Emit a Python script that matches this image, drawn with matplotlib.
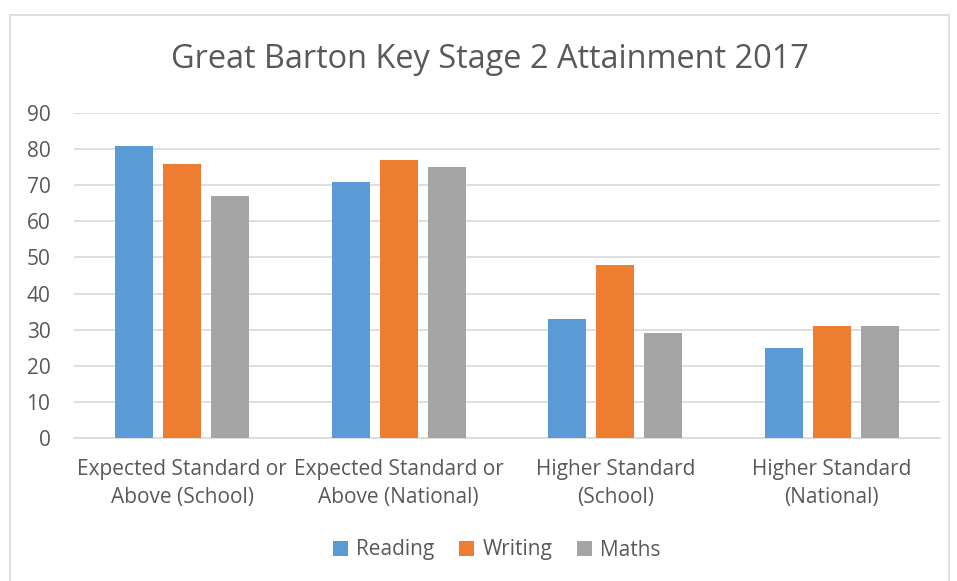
import matplotlib.pyplot as plt
import numpy as np
from matplotlib.patches import Rectangle

categories = ['Expected Standard or\nAbove (School)', 'Expected Standard or\nAbove (National)',
              'Higher Standard\n(School)', 'Higher Standard\n(National)']
series = ['Reading', 'Writing', 'Maths']
reading = [81, 71, 33, 25]
writing = [76, 77, 48, 31]
maths = [67, 75, 29, 31]
colors = ['#5B9BD5', '#ED7D31', '#A5A5A5']

plt.rcParams['font.family'] = ['Open Sans', 'DejaVu Sans']
txt = '#595959'

fig = plt.figure(figsize=(9.57, 5.81), dpi=100)
ax = fig.add_axes([74 / 957, 1 - 438 / 581, (940 - 74) / 957, (438 - 113) / 581])

# chart border
fig.patches.append(Rectangle((10 / 957, -0.01), (949 - 10) / 957, 1 - 15 / 581 + 0.01,
                             transform=fig.transFigure, fill=False, edgecolor='#D9D9D9', lw=1.2))

x = np.arange(len(categories))
w = 0.175
step = 0.222
for i, (vals, c, name) in enumerate(zip([reading, writing, maths], colors, series)):
    ax.bar(x + (i - 1) * step, vals, w, color=c, label=name, zorder=3)

ax.set_xlim(-0.5, 3.5)
ax.set_ylim(0, 90)
ax.set_yticks(range(0, 91, 10))
ax.grid(axis='y', color='#D9D9D9', lw=1.2, zorder=0)
for s in ['top', 'right', 'left']:
    ax.spines[s].set_visible(False)
ax.spines['bottom'].set_color('#D9D9D9')
ax.spines['bottom'].set_linewidth(1.2)
ax.tick_params(axis='both', length=0, colors=txt, labelsize=15)
ax.tick_params(axis='y', pad=17)
ax.tick_params(axis='x', pad=15)
ax.set_xticks(x)
ax.set_xticklabels(categories, linespacing=1.45)

fig.text(490 / 957, 1 - 60 / 581, 'Great Barton Key Stage 2 Attainment 2017',
         ha='center', va='center', fontsize=23.4, color=txt)

fig.legend(loc='center', bbox_to_anchor=(497 / 957, 1 - 550 / 581), ncol=3, frameon=False,
           fontsize=15, labelcolor=txt, handlelength=0.7, handleheight=0.7,
           handletextpad=0.4, columnspacing=1.2)

fig.savefig('out.png', dpi=100)
